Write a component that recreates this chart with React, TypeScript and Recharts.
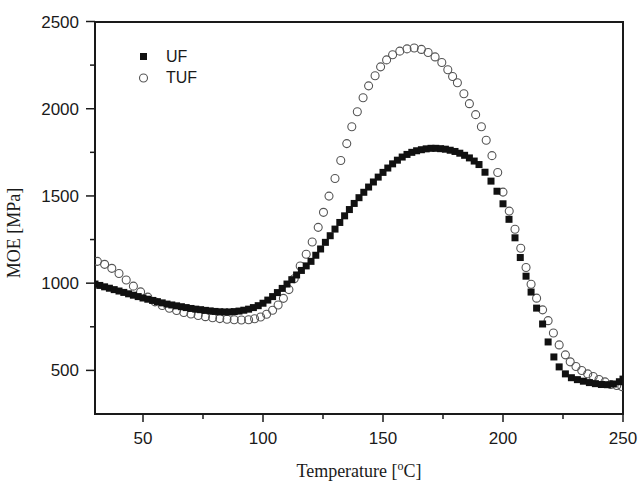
import React from "react";
import { ScatterChart, Scatter, XAxis, YAxis, Legend, Label } from "recharts";

// UF (filled squares)
const ufTemp = [
  30, 32, 34, 36, 38, 40, 42, 44, 46, 48, 50, 52, 54, 56, 58, 60, 62, 64, 66, 68,
  70, 72, 74, 76, 78, 80, 82, 84, 86, 88, 90, 92, 94, 96, 98, 100, 102, 104, 106, 108,
  110, 112, 114, 116, 118, 120, 122, 124, 126, 128, 130, 132, 134, 136, 138, 140, 142, 144, 146, 148,
  150, 152, 154, 156, 158, 160, 162, 164, 166, 168, 170, 172, 174, 176, 178, 180, 182, 184, 186, 188,
  190, 192.5, 195, 197.5, 200, 202.5, 205, 207.2, 209.6, 211.7, 214, 216.5, 218.8, 221.2, 223.4, 226,
  228.5, 231, 233.5, 236, 238.5, 241, 243.5, 246, 248.5, 250,
];
const ufMoe = [
  995, 987, 979, 971, 963, 955, 947, 939, 931, 923, 915, 908, 901, 894, 887, 880, 875, 870, 865, 860,
  855, 851, 848, 844, 841, 838, 836, 835, 835, 837, 840, 845, 851, 860, 871, 885, 903, 923, 946, 970,
  995, 1020, 1047, 1073, 1099, 1125, 1160, 1196, 1234, 1272, 1310, 1348, 1386, 1422, 1457, 1490, 1521, 1551, 1580, 1608,
  1635, 1660, 1684, 1705, 1723, 1738, 1750, 1759, 1765, 1770, 1773, 1773, 1771, 1768, 1762, 1755, 1745, 1733, 1718, 1700,
  1680, 1636, 1585, 1527, 1455, 1366, 1260, 1147, 1040, 949, 857, 766, 663, 577, 520, 480,
  458, 447, 438, 430, 424, 419, 418, 422, 435, 450,
];

// TUF (open circles)
const tufTemp = [
  31, 34, 37, 40, 43, 46, 49, 52, 55, 58, 61, 64, 67, 70, 73, 76, 79, 82, 85, 88,
  91, 94, 96.5, 99, 101.5, 104, 106.3, 108.5, 110.8, 113, 115.5, 118, 120.5, 123, 125.2, 127.5, 130, 132.4, 134.9, 137,
  139.3, 141.7, 144, 146.7, 149, 151.5, 154, 157, 160, 163, 166, 168.8, 171.7, 174.5, 177, 179, 181, 183.7, 186, 188.6,
  191, 193, 195.4, 197.8, 200, 202.6, 205, 207.4, 209.6, 211.7, 214, 216.5, 218.8, 221, 223.4, 226, 228, 230.4, 232.8, 235.3,
  237.6, 240, 242.5, 244.9, 247.4, 249.5,
];
const tufMoe = [
  1125, 1108, 1085, 1055, 1018, 983, 950, 920, 893, 872, 856, 843, 832, 823, 815, 808, 802, 797, 793, 790,
  789, 790, 796, 806, 822, 845, 875, 913, 963, 1025, 1098, 1166, 1236, 1320, 1406, 1499, 1600, 1703, 1800, 1897,
  1983, 2063, 2131, 2189, 2240, 2280, 2309, 2330, 2343, 2348, 2340, 2322, 2297, 2265, 2223, 2185, 2149, 2086, 2029, 1966,
  1897, 1819, 1731, 1634, 1522, 1413, 1309, 1200, 1090, 994, 914, 847, 785, 714, 646, 589, 549, 522, 499, 480,
  465, 448, 434, 419, 413, 407,
];

const xTicks = [50, 75, 100, 125, 150, 175, 200, 225, 250];
const yTicks = [500, 750, 1000, 1250, 1500, 1750, 2000, 2250, 2500];

const ufData = ufTemp.map((t, i) => ({ t, moe: ufMoe[i] }));
const tufData = tufTemp.map((t, i) => ({ t, moe: tufMoe[i] }));

const INK = "#1a1a1a";
const SANS = "'Liberation Sans', Arial, sans-serif";
const SERIF = "'Liberation Serif', 'Times New Roman', serif";

const W = 639;
const H = 485;
const M = { top: 21.5, right: 16, bottom: 7, left: 0 };
const Y_AXIS_W = 95;
const X_AXIS_H = 64;
// plot box, from the chart size and margins above
const PLOT_L = M.left + Y_AXIS_W;
const PLOT_R = W - M.right;
const PLOT_T = M.top;
const PLOT_B = H - M.bottom - X_AXIS_H;

const XTick = (props: any) => {
  const { x, y, payload } = props;
  const major = payload.value % 50 === 0;
  return (
    <g>
      <line x1={x} x2={x} y1={y} y2={y + (major ? 8 : 5)} stroke={INK} strokeWidth={1.5} />
      {major && (
        <text x={x} y={y + 30} textAnchor="middle" fontFamily={SANS} fontSize={17} fill={INK}>
          {payload.value}
        </text>
      )}
    </g>
  );
};

const YTick = (props: any) => {
  const { x, y, payload } = props;
  const major = payload.value % 500 === 0;
  return (
    <g>
      <line x1={x} x2={x - (major ? 9 : 5)} y1={y} y2={y} stroke={INK} strokeWidth={1.5} />
      {major && (
        <text x={x - 16} y={y + 6} textAnchor="end" fontFamily={SANS} fontSize={17} fill={INK}>
          {payload.value}
        </text>
      )}
    </g>
  );
};

const Square = (props: any) => {
  const { cx, cy } = props;
  return <rect x={cx - 3.5} y={cy - 3.5} width={7} height={7} fill="#111" />;
};

const Ring = (props: any) => {
  const { cx, cy } = props;
  return <circle cx={cx} cy={cy} r={4} fill="none" stroke="#555" strokeWidth={1.1} />;
};

const renderLegend = () => (
  <div style={{ fontFamily: SANS, fontSize: 16, color: INK, lineHeight: "21px" }}>
    <div style={{ display: "flex", alignItems: "center" }}>
      <svg width={28} height={12}>
        <rect x={2} y={2} width={7} height={7} fill="#111" />
      </svg>
      <span>UF</span>
    </div>
    <div style={{ display: "flex", alignItems: "center" }}>
      <svg width={28} height={12}>
        <circle cx={5.5} cy={6} r={4} fill="none" stroke="#555" strokeWidth={1.1} />
      </svg>
      <span>TUF</span>
    </div>
  </div>
);

const YTitle = () => (
  <text x={20} y={233} transform="rotate(-90 20 233)" textAnchor="middle" fontFamily={SERIF} fontSize={18} fill={INK}>
    MOE [MPa]
  </text>
);

// x-axis title, plus the plot frame
const XTitle = () => (
  <g>
    <rect
      x={PLOT_L}
      y={Math.round(PLOT_T)}
      width={PLOT_R - PLOT_L}
      height={PLOT_B - Math.round(PLOT_T)}
      fill="none"
      stroke={INK}
      strokeWidth={2}
    />
    <text x={(PLOT_L + PLOT_R) / 2} y={PLOT_B + 63} textAnchor="middle" fontFamily={SERIF} fontSize={18} fill={INK}>
      Temperature [<tspan dy={-7} fontSize={12}>o</tspan>
      <tspan dy={7}>C]</tspan>
    </text>
  </g>
);

export default function App() {
  return (
    <div style={{ position: "absolute", left: 0, top: 0, width: W, height: H }}>
      <ScatterChart width={W} height={H} margin={M}>
        <XAxis
          dataKey="t"
          type="number"
          domain={[30, 250]}
          ticks={xTicks}
          interval={0}
          tick={<XTick />}
          tickLine={false}
          tickSize={0}
          tickMargin={0}
          height={X_AXIS_H}
          stroke={INK}
          strokeWidth={1.5}
          allowDataOverflow
        >
          <Label content={XTitle} />
        </XAxis>
        <YAxis
          dataKey="moe"
          type="number"
          domain={[250, 2500]}
          ticks={yTicks}
          interval={0}
          tick={<YTick />}
          tickLine={false}
          tickSize={0}
          tickMargin={0}
          width={Y_AXIS_W}
          stroke={INK}
          strokeWidth={1.5}
          allowDataOverflow
        >
          <Label content={YTitle} />
        </YAxis>
        <Legend
          layout="vertical"
          align="center"
          verticalAlign="middle"
          content={renderLegend}
          wrapperStyle={{ left: 138, top: 46, width: 80 }}
        />
        <Scatter name="TUF" data={tufData} shape={<Ring />} isAnimationActive={false} />
        <Scatter name="UF" data={ufData} shape={<Square />} isAnimationActive={false} />
      </ScatterChart>
    </div>
  );
}
